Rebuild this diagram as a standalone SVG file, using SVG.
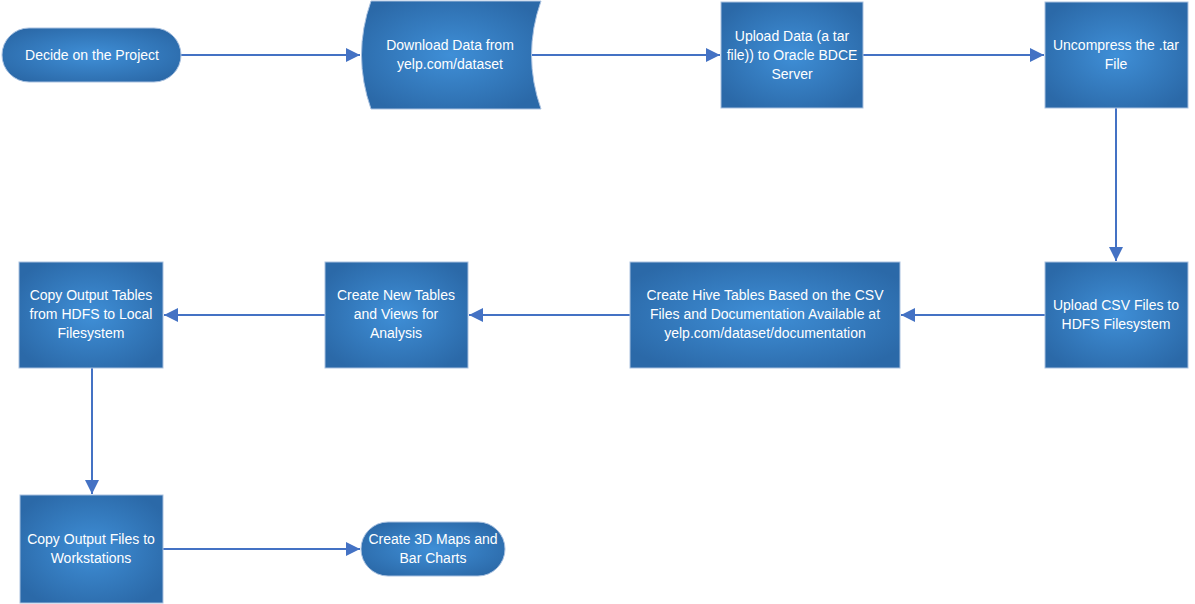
<svg xmlns="http://www.w3.org/2000/svg" width="1195" height="604" viewBox="0 0 1195 604">
<defs>
<radialGradient id="g" cx="50%" cy="50%" r="60%">
<stop offset="0" stop-color="#3f8fd7"/>
<stop offset="1" stop-color="#2b69a8"/>
</radialGradient>
<marker id="ah" viewBox="0 0 10 10" refX="10" refY="5" markerWidth="14" markerHeight="14" markerUnits="userSpaceOnUse" orient="auto">
<path d="M0,0 L10,5 L0,10 z" fill="#4472c4"/>
</marker>
<style>
.s{fill:url(#g);stroke:#a9c1e0;stroke-width:1}
.t{font-family:"Liberation Sans",Arial,sans-serif;font-size:14px;fill:#ffffff;text-anchor:middle}
.c{fill:none;stroke:#4472c4;stroke-width:2;marker-end:url(#ah)}
</style>
</defs>
<rect width="1195" height="604" fill="#ffffff"/>
<g id="connectors">
<path class="c" d="M181,55 H360"/>
<path class="c" d="M529,55 H720"/>
<path class="c" d="M863,55 H1044"/>
<path class="c" d="M1116,108 V261"/>
<path class="c" d="M1045,315 H901"/>
<path class="c" d="M630,315 H469"/>
<path class="c" d="M325,315 H164"/>
<path class="c" d="M92,368 V494"/>
<path class="c" d="M163,549 H360"/>
</g>
<g id="n1"><rect class="s" x="2" y="28" width="179" height="54" rx="27"/><text class="t" x="92" y="60">Decide on the Project</text></g>
<g id="n2"><path class="s" d="M371,1 H541 Q522,55 541,109 H371 Q352,55 371,1 Z"/><text class="t" x="450" y="50">Download Data from</text><text class="t" x="450" y="69">yelp.com/dataset</text></g>
<g id="n3"><rect class="s" x="721" y="2" width="142" height="106"/><text class="t" x="792" y="41">Upload Data (a tar</text><text class="t" x="792" y="60">file)) to Oracle BDCE</text><text class="t" x="792" y="79">Server</text></g>
<g id="n4"><rect class="s" x="1045" y="2" width="143" height="106"/><text class="t" x="1116" y="50">Uncompress the .tar</text><text class="t" x="1116" y="69">File</text></g>
<g id="n5"><rect class="s" x="1045" y="262" width="143" height="106"/><text class="t" x="1116" y="310">Upload CSV Files to</text><text class="t" x="1116" y="329">HDFS Filesystem</text></g>
<g id="n6"><rect class="s" x="630" y="262" width="270" height="106"/><text class="t" x="765" y="300">Create Hive Tables Based on the CSV</text><text class="t" x="765" y="319">Files and Documentation Available at</text><text class="t" x="765" y="338">yelp.com/dataset/documentation</text></g>
<g id="n7"><rect class="s" x="325" y="262" width="143" height="106"/><text class="t" x="396" y="300">Create New Tables</text><text class="t" x="396" y="319">and Views for</text><text class="t" x="396" y="338">Analysis</text></g>
<g id="n8"><rect class="s" x="19" y="262" width="144" height="106"/><text class="t" x="91" y="300">Copy Output Tables</text><text class="t" x="91" y="319">from HDFS to Local</text><text class="t" x="91" y="338">Filesystem</text></g>
<g id="n9"><rect class="s" x="20" y="495" width="143" height="108"/><text class="t" x="91" y="544">Copy Output Files to</text><text class="t" x="91" y="563">Workstations</text></g>
<g id="n10"><rect class="s" x="361" y="522" width="144" height="54" rx="27"/><text class="t" x="433" y="544">Create 3D Maps and</text><text class="t" x="433" y="563">Bar Charts</text></g>
</svg>
